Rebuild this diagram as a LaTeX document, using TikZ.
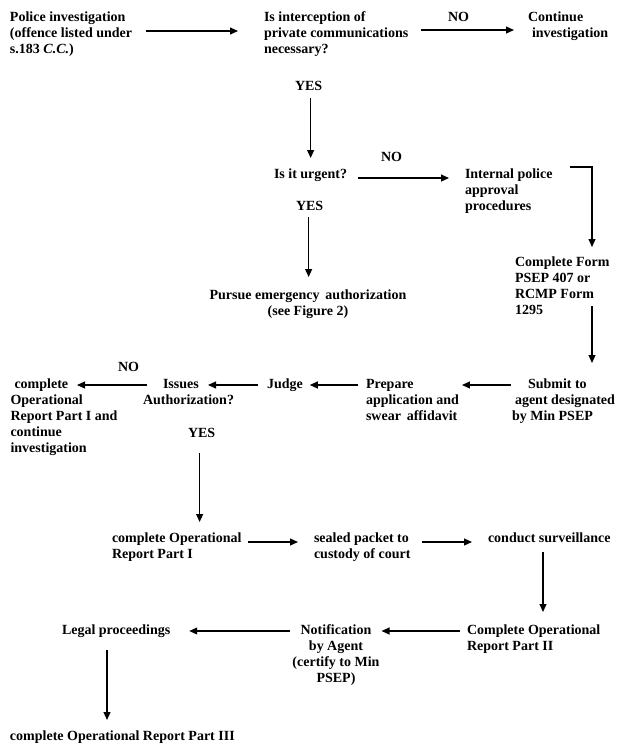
\documentclass[tikz,border=0pt]{standalone}
\usepackage{fontspec}
\setmainfont{Liberation Serif}
\usetikzlibrary{arrows.meta,calc}
\newcommand{\firstln}{\rule{0pt}{9pt}}
\tikzset{
  txt/.style={anchor=north west, inner sep=0pt, outer sep=0pt, align=left,
    font=\fontsize{10.5}{12}\selectfont\bfseries},
  ctxt/.style={txt, anchor=north, align=center},
  arr/.style={line width=0.95pt, -{Triangle[length=6pt,width=5.2pt]}},
}
\begin{document}
\begin{tikzpicture}[x=0.75pt,y=-0.75pt]
\useasboundingbox (0,0) rectangle (621,751);
% row 1
\node[txt] (police) at (10,9) {\firstln Police investigation\\(offence listed under\\s.183 \textit{C.C.})};
\node[txt] (interc) at (264,9) {\firstln Is interception of\\private communications\\necessary?};
\node[txt] (no1) at (448,9) {\firstln NO};
\node[txt] (cont) at (528,9) {\firstln Continue\\\hspace*{3pt}investigation};
\node[txt] (yes1) at (295,78) {\firstln YES};
% row 2
\node[txt] (urgent) at (274,166) {\firstln Is it urgent?};
\node[txt] (no2) at (381,149) {\firstln NO};
\node[txt] (internal) at (465,166) {\firstln Internal police\\approval\\procedures};
\node[txt] (yes2) at (296,198) {\firstln YES};
\node[ctxt] (pursue) at (308,287) {\firstln Pursue emergency\, authorization\\(see Figure 2)};
\node[txt] (form) at (515,254) {\firstln Complete Form\\PSEP 407 or\\RCMP Form\\1295};
% row 3
\node[txt] (compl1) at (10.5,376) {\firstln\hspace*{3pt}complete\\Operational\\Report Part I and\\continue\\investigation};
\node[txt] (no3) at (118,359) {\firstln NO};
\node[txt] (issues) at (143,376) {\firstln\hspace*{15pt}Issues\\Authorization?};
\node[txt] (yes3) at (188,425) {\firstln YES};
\node[txt] (judge) at (267,376) {\firstln Judge};
\node[txt] (prepare) at (366,376) {\firstln Prepare\\application and\\swear\, affidavit};
\node[txt] (submit) at (512,376) {\firstln\hspace*{12pt}Submit to\\\hspace*{2.25pt}agent designated\\by Min PSEP};
% row 4
\node[txt] (compl2) at (112,530) {\firstln complete Operational\\Report Part I};
\node[txt] (sealed) at (314,530) {\firstln sealed packet to\\custody of court};
\node[txt] (conduct) at (488,530) {\firstln conduct surveillance};
% row 5
\node[txt] (legal) at (62,622) {\firstln Legal proceedings};
\node[ctxt] (notif) at (336,622) {\firstln Notification\\by Agent\\(certify to Min\\PSEP)};
\node[txt] (compl3) at (467,622) {\firstln Complete Operational\\Report Part II};
\node[txt] (partIII) at (10,728) {\firstln complete Operational Report Part III};
% connectors
\draw[arr] ($(police.north east)+(14,22)$) -- ($(interc.north west)+(-26,22)$);
\draw[arr] ($(interc.north east)+(13,21)$) -- ($(cont.north west)+(-14,21)$);
\draw[arr] ($(yes1.south)+(2,8)$) -- ($(yes1.south |- urgent.north)+(2,-8)$);
\draw[arr] ($(urgent.north east)+(11,12)$) -- ($(internal.north west)+(-16,12)$);
\draw[arr] ($(internal.north east)+(18,1)$) -| ($(form.north west)+(77,-7)$);
\draw[arr] ($(yes2.south)+(-1,7)$) -- ($(yes2.south |- pursue.north)+(-1,-10)$);
\draw[arr] ($(form.north west)+(77,52)$) -- ($(submit.north west)+(80,-13)$);
\draw[arr] ($(submit.north west)+(-1,9)$) -- ($(prepare.north east)+(3,9)$);
\draw[arr] ($(prepare.north west)+(-8,9)$) -- ($(judge.north east)+(7,9)$);
\draw[arr] ($(judge.north west)+(-9,9)$) -- ($(issues.north west)+(65,9)$);
\draw[arr] ($(issues.north west)+(4,9)$) -- ($(compl1.north west)+(66.5,9)$);
\draw[arr] ($(yes3.south)+(-2,16)$) -- ($(yes3.south |- compl2.north)+(-2,-8)$);
\draw[arr] ($(compl2.north east)+(7,12)$) -- ($(sealed.north west)+(-16,12)$);
\draw[arr] ($(sealed.north east)+(12,12)$) -- ($(conduct.north west)+(-16,12)$);
\draw[arr] ($(conduct.north west)+(55,22)$) -- ($(compl3.north west)+(76,-10)$);
\draw[arr] ($(compl3.north west)+(-7,9)$) -- ($(notif.north east)+(2,9)$);
\draw[arr] ($(notif.north west)+(-2,9)$) -- ($(legal.north east)+(19,9)$);
\draw[arr] ($(legal.north west)+(45,28)$) -- ($(partIII.north west)+(97,-8)$);
\end{tikzpicture}
\end{document}
